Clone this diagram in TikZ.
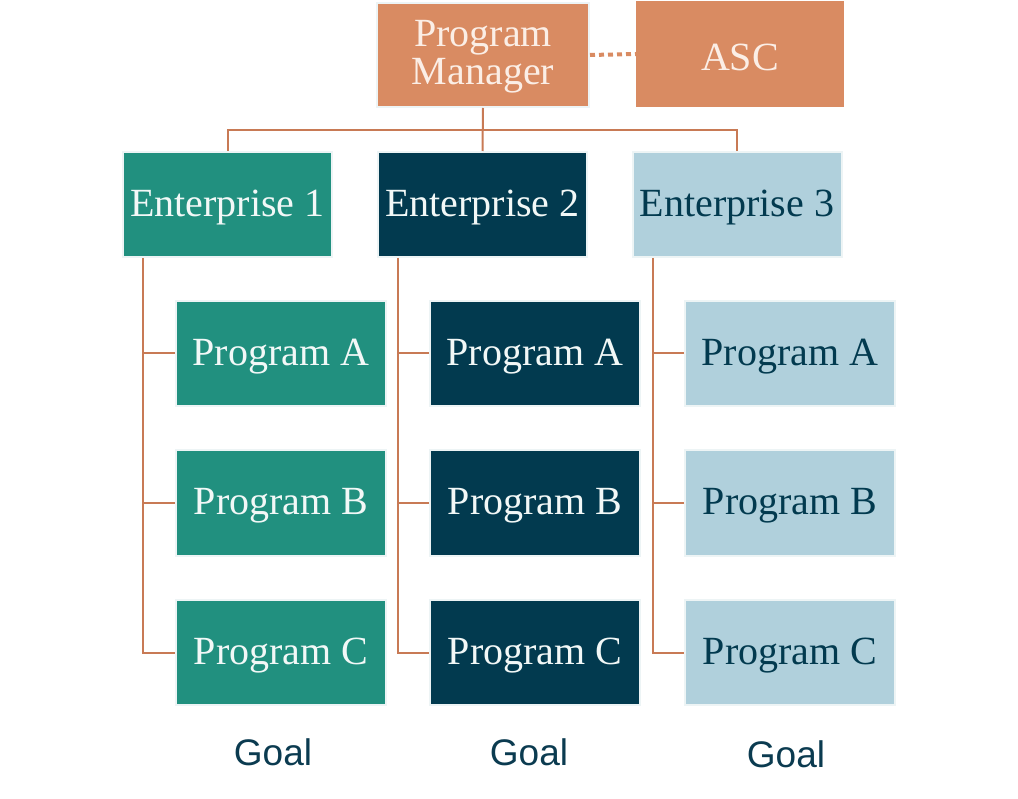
\documentclass[tikz,border=0pt]{standalone}
\usepackage{fontspec}
\setmainfont{Liberation Serif}
\newfontfamily\goalfont{Liberation Sans}
\definecolor{cteal}{HTML}{21907F}
\definecolor{cnavy}{HTML}{023A4F}
\definecolor{clight}{HTML}{B0D0DC}
\definecolor{corange}{HTML}{D98B62}
\definecolor{cline}{HTML}{C87A55}
\definecolor{cpale}{HTML}{F2F8F7}
\definecolor{cpaleo}{HTML}{FBEEE6}
\definecolor{cedge}{HTML}{EDF4F5}
\definecolor{cgoal}{HTML}{0B3B50}
\newcommand{\lowtxt}[1]{\raisebox{-3pt}[\height][\depth]{#1}}
\begin{document}
\begin{tikzpicture}[x=1pt,y=-1pt,
  box/.style={rectangle, draw=cedge, line width=2pt, minimum width=210pt, minimum height=105pt, inner sep=0pt,
    font=\fontsize{40}{38}\selectfont, align=center},
  tealbox/.style={box, fill=cteal, text=cpale},
  navybox/.style={box, fill=cnavy, text=cpale},
  lightbox/.style={box, fill=clight, text=cnavy},
  orangebox/.style={box, fill=corange, text=cpaleo},
  conn/.style={draw=cline, line width=2pt},
  goal/.style={font=\goalfont\fontsize{37}{40}\selectfont, text=cgoal, inner sep=0pt}]
\useasboundingbox (0,0) rectangle (1018,799);
% top
\node[orangebox, minimum width=212pt, minimum height=104pt] (pm) at (483,55) {\lowtxt{\begin{tabular}{@{}c@{}}Program\\Manager\end{tabular}}};
\node[orangebox, draw=corange, minimum width=206pt, minimum height=104pt] (asc) at (740,54) {\lowtxt{ASC}};
% enterprises
\node[tealbox, minimum width=209pt] (e1) at (227.5,204.5) {\lowtxt{Enterprise 1}};
\node[navybox, minimum width=209pt] (e2) at (482.5,204.5) {\lowtxt{Enterprise 2}};
\node[lightbox, minimum width=209pt] (e3) at (737,204.5) {\lowtxt{Enterprise 3}};
% programs
\node[tealbox] (a1) at (281,353.5) {\lowtxt{Program A}};
\node[tealbox] (b1) at (281,503) {\lowtxt{Program B}};
\node[tealbox] (c1) at (281,652.5) {\lowtxt{Program C}};
\node[navybox] (a2) at (535,353.5) {\lowtxt{Program A}};
\node[navybox] (b2) at (535,503) {\lowtxt{Program B}};
\node[navybox] (c2) at (535,652.5) {\lowtxt{Program C}};
\node[lightbox] (a3) at (790,353.5) {\lowtxt{Program A}};
\node[lightbox] (b3) at (790,503) {\lowtxt{Program B}};
\node[lightbox] (c3) at (790,652.5) {\lowtxt{Program C}};
% goals
\node[goal] (g1) at (273,752) {Goal};
\node[goal] (g2) at (529,752) {Goal};
\node[goal] (g3) at (786,754) {Goal};
% connectors
\draw[draw=corange, line width=4pt, dash pattern=on 5pt off 4pt] (pm.east) -- (asc.west);
\coordinate (bus) at (483,130);
\draw[conn] (pm.south) -- (e2.north);
\draw[conn] (e1.north) |- (bus) -| (e3.north);
\coordinate (s1) at ([xshift=21pt]e1.south west);
\coordinate (s2) at ([xshift=21pt]e2.south west);
\coordinate (s3) at ([xshift=21pt]e3.south west);
\draw[conn] (s1) |- (c1.west);
\draw[conn] (a1.west) -- (a1.west -| s1);
\draw[conn] (b1.west) -- (b1.west -| s1);
\draw[conn] (s2) |- (c2.west);
\draw[conn] (a2.west) -- (a2.west -| s2);
\draw[conn] (b2.west) -- (b2.west -| s2);
\draw[conn] (s3) |- (c3.west);
\draw[conn] (a3.west) -- (a3.west -| s3);
\draw[conn] (b3.west) -- (b3.west -| s3);
\end{tikzpicture}
\end{document}
